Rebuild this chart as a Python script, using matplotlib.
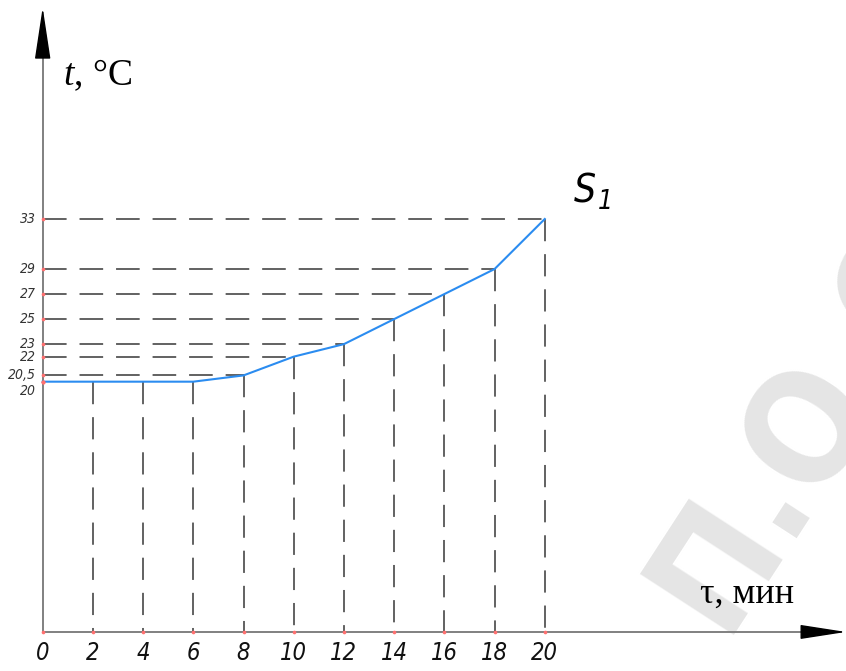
import numpy as np
import matplotlib
matplotlib.use('Agg')
import matplotlib.pyplot as plt

# heating curve S1: time (min) vs temperature (deg C)
tau = [0, 2, 4, 6, 8, 10, 12, 14, 16, 18, 20]
temp = [20, 20, 20, 20, 20.5, 22, 23, 25, 27, 29, 33]
curve_name = 'S'
curve_index = '1'

plt.rcParams['mathtext.fontset'] = 'custom'
plt.rcParams['mathtext.rm'] = 'Liberation Serif'
plt.rcParams['mathtext.it'] = 'Liberation Serif:italic'
plt.rcParams['lines.scale_dashes'] = False

tech = dict(family='DejaVu Sans', style='italic', stretch='condensed')

fig = plt.figure(figsize=(8.46, 6.71), dpi=100)
ax = fig.add_axes([0, 0, 1, 1])
ax.set_xlim(-1.70, 32.0)
ax.set_ylim(-3.12, 50.5)
ax.axis('off')

# watermark
wm = dict(fontsize=110, fontweight='bold', stretch='condensed', color='#e5e5e5',
          rotation=57, rotation_mode='anchor', va='baseline',
          family='DejaVu Sans', zorder=-1)
fig.text(0.853, 0.054, 'ГГТУ им. ', ha='right', **wm)
fig.text(0.853, 0.054, 'П.О.Сухого', ha='left', **wm)

axis_col = '#808080'
dash_col = '#555555'

# axes with arrows
ax.plot([0, 0], [0, 47], color=axis_col, lw=1.4, zorder=2)
ax.plot([0, 30.5], [0, 0], color=axis_col, lw=1.4, zorder=2)
ax.annotate('', xy=(0, 49.9), xytext=(0, 46.1), annotation_clip=False,
            arrowprops=dict(arrowstyle='-|>,head_length=3.3,head_width=0.5',
                            color='black', lw=1, shrinkA=0, shrinkB=0))
ax.annotate('', xy=(32.0, 0), xytext=(30.4, 0), annotation_clip=False,
            arrowprops=dict(arrowstyle='-|>,head_length=2.9,head_width=0.45',
                            color='black', lw=1, shrinkA=0, shrinkB=0))

# projection lines
for xi, yi in zip(tau, temp):
    if xi > 0:
        ax.plot([xi, xi], [yi, 0], color=dash_col, lw=1.3,
                dashes=(16, 9.3), dash_capstyle='butt', zorder=3)
    if yi != temp[0]:
        ax.plot([0, xi], [yi, yi], color=dash_col, lw=1.3,
                dashes=(17, 9.3), dash_capstyle='butt', zorder=3)

# curve
ax.plot(tau, temp, color='#2b8cf0', lw=1.5, zorder=5)

# tick dots
ax.scatter(tau, np.zeros(len(tau)), s=7, color='#ff7070', zorder=6, lw=0)
ax.scatter(np.zeros(len(temp)), temp, s=7, color='#ff7070', zorder=6, lw=0)

# tick labels
for xi in tau:
    ax.annotate(f'{xi:g}', xy=(xi, 0), xytext=(0, -15), textcoords='offset points',
                ha='center', va='center', fontsize=17, color='#111111', **tech)
for yi in sorted(set(temp)):
    dy = -7 if yi == temp[0] else 0
    ax.annotate(f'{yi:g}'.replace('.', ','), xy=(0, yi), xytext=(-5, dy),
                textcoords='offset points', ha='right', va='center',
                fontsize=10, color='#333333', **tech)

# axis names
ax.text(0.8, 43.7, '$t$, °C', fontsize=27, family='Liberation Serif',
        ha='left', va='baseline')
ax.text(26.2, 2.3, 'τ, мин', fontsize=26, family='Liberation Serif',
        ha='left', va='baseline')

# curve name
ax.annotate(curve_name, xy=(tau[-1], temp[-1]), xytext=(29, 12),
            textcoords='offset points', ha='center', va='baseline',
            fontsize=28, **tech)
ax.annotate(curve_index, xy=(tau[-1], temp[-1]), xytext=(44, 7),
            textcoords='offset points', ha='center', va='baseline',
            fontsize=19, **tech)

fig.savefig('out.png', dpi=100)
